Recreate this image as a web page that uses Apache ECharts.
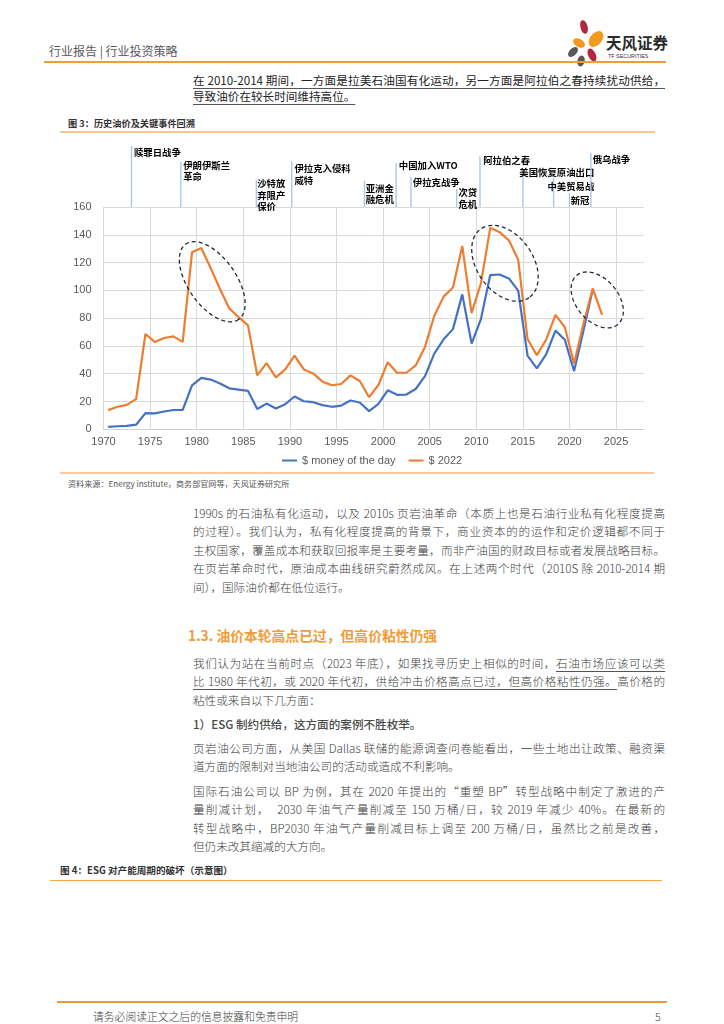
<!DOCTYPE html>
<html><head><meta charset="utf-8">
<script src="https://cdn.jsdelivr.net/npm/echarts@6/dist/echarts.min.js"></script>
<style>
html,body{margin:0;padding:0;background:#fff;}
#page{position:relative;width:724px;height:1024px;overflow:hidden;font-family:"Noto Sans CJK SC","Noto Sans",sans-serif;background:#fff;}
#chart{position:absolute;left:0;top:0;width:724px;height:1024px;z-index:2;}
.t{position:absolute;white-space:nowrap;}
.ln{position:absolute;left:193px;width:472px;height:18px;line-height:18px;font-size:11.6px;color:#3c3c3c;font-weight:300;}
.j{text-align:justify;text-align-last:justify;}
.rule{position:absolute;}
.u{text-decoration:underline;text-decoration-color:#555;text-underline-offset:3px;}
</style></head>
<body>
<div id="page">
  <!-- header -->
  <div class="t" style="left:49px;top:43px;font-size:12px;line-height:16px;color:#595959;">行业报告 | 行业投资策略</div>
  <svg style="position:absolute;left:0;top:0;" width="724" height="80">
    <ellipse cx="584" cy="27" rx="3.6" ry="7" transform="rotate(-15 584 27)" fill="#B0283F"/>
    <ellipse cx="596" cy="39" rx="6" ry="9" transform="rotate(40 596 39)" fill="#F39A1E"/>
    <ellipse cx="579" cy="43" rx="4" ry="6.5" transform="rotate(-60 579 43)" fill="#F39A1E"/>
    <ellipse cx="573" cy="52" rx="3.6" ry="6" transform="rotate(45 573 52)" fill="#58595B"/>
    <ellipse cx="592" cy="55" rx="3.8" ry="7" transform="rotate(-25 592 55)" fill="#B0283F"/>
    <ellipse cx="581" cy="61" rx="3.6" ry="5.5" transform="rotate(15 581 61)" fill="#58595B"/>
    <text x="606" y="48.5" font-size="15.5" font-weight="700" fill="#2b2b2b" font-family="Noto Sans CJK SC">天风证券</text>
    <text x="608" y="58" font-size="5.4" fill="#333" font-family="Liberation Sans">TF SECURITIES</text>
  </svg>
  <div class="rule" style="left:44px;top:61px;width:622px;height:2px;background:#F39C36;"></div>

  <div class="ln j" style="top:71px;font-size:11.6px;color:#222;font-weight:400;"><span class="u">在 2010-2014 期间，一方面是拉美石油国有化运动，另一方面是阿拉伯之春持续扰动供给，</span></div>
  <div class="ln" style="top:87px;font-size:11.6px;color:#222;font-weight:400;"><span class="u">导致油价在较长时间维持高位。</span></div>

  <div class="t" style="left:68px;top:117px;font-size:9.2px;line-height:12px;color:#333;font-weight:700;">图 3：历史油价及关键事件回溯</div>
  <div class="rule" style="left:60px;top:131px;width:595px;height:1.5px;background:#F9C596;"></div>

  <div class="rule" style="left:60px;top:472px;width:594px;height:1.5px;background:#FBC99B;"></div>
  <div class="t" style="left:68px;top:478px;font-size:8.1px;line-height:12px;color:#555;">资料来源：Energy institute，商务部官网等，天风证券研究所</div>

  <div class="ln j" style="top:503.7px;">1990s 的石油私有化运动，以及 2010s 页岩油革命（本质上也是石油行业私有化程度提高</div>
  <div class="ln j" style="top:522.2px;">的过程）。我们认为，私有化程度提高的背景下，商业资本的的运作和定价逻辑都不同于</div>
  <div class="ln j" style="top:540.7px;">主权国家，覆盖成本和获取回报率是主要考量，而非产油国的财政目标或者发展战略目标。</div>
  <div class="ln j" style="top:559.2px;">在页岩革命时代，原油成本曲线研究蔚然成风。在上述两个时代（2010S 除 2010-2014 期</div>
  <div class="ln" style="top:577.7px;">间），国际油价都在低位运行。</div>

  <div class="t" style="left:188px;top:625px;font-size:13.8px;line-height:20px;color:#F29B38;font-weight:700;">1.3. 油价本轮高点已过，但高价粘性仍强</div>

  <div class="ln j" style="top:654px;">我们认为站在当前时点（2023 年底），如果找寻历史上相似的时间，<span class="u">石油市场应该可以类</span></div>
  <div class="ln j" style="top:672.3px;"><span class="u">比 1980 年代初，或 2020 年代初，供给冲击价格高点已过，但高价格粘性仍强。</span>高价格的</div>
  <div class="ln" style="top:690.6px;">粘性或来自以下几方面：</div>

  <div class="ln" style="top:715px;font-weight:500;color:#4a4a4a;">1）ESG 制约供给，这方面的案例不胜枚举。</div>

  <div class="ln j" style="top:739px;">页岩油公司方面，从美国 Dallas 联储的能源调查问卷能看出，一些土地出让政策、融资渠</div>
  <div class="ln" style="top:757.3px;">道方面的限制对当地油公司的活动或造成不利影响。</div>

  <div class="ln j" style="top:782px;">国际石油公司以 BP 为例，其在 2020 年提出的“重塑 BP”转型战略中制定了激进的产</div>
  <div class="ln j" style="top:800.3px;">量削减计划，&nbsp; 2030 年油气产量削减至 150 万桶/日，较 2019 年减少 40%。在最新的</div>
  <div class="ln j" style="top:818.6px;">转型战略中，BP2030 年油气产量削减目标上调至 200 万桶/日，虽然比之前是改善，</div>
  <div class="ln" style="top:836.9px;">但仍未改其缩减的大方向。</div>

  <div class="t" style="left:60px;top:864px;font-size:9.6px;line-height:13px;color:#333;font-weight:700;">图 4：ESG 对产能周期的破坏（示意图）</div>
  <div class="rule" style="left:50px;top:879.5px;width:612px;height:1.5px;background:#F6A54F;"></div>

  <div class="rule" style="left:57px;top:1001px;width:610px;height:2.2px;background:#EE9A2E;"></div>
  <div class="t" style="left:93px;top:1008px;font-size:10.8px;line-height:16px;color:#404040;font-weight:300;">请务必阅读正文之后的信息披露和免责申明</div>
  <div class="t" style="left:655px;top:1008px;font-size:10.8px;line-height:16px;color:#404040;font-weight:300;">5</div>

  <div id="chart"></div>
</div>
<script>
// ---- data ----
const years = [1970,1971,1972,1973,1974,1975,1976,1977,1978,1979,
  1980,1981,1982,1983,1984,1985,1986,1987,1988,1989,
  1990,1991,1992,1993,1994,1995,1996,1997,1998,1999,
  2000,2001,2002,2003,2004,2005,2006,2007,2008,2009,
  2010,2011,2012,2013,2014,2015,2016,2017,2018,2019,
  2020,2021,2022,2023];
const moneyOfTheDay = [1.8,2.2,2.5,3.3,11.6,11.5,12.8,13.9,14.0,31.6,
  37.0,35.8,32.9,29.5,28.6,27.7,14.6,18.5,15.0,18.1,
  23.6,20.2,19.5,17.4,16.2,17.1,20.7,19.3,13.1,18.3,
  28.1,24.8,25.0,29.0,38.3,54.5,64.8,72.1,97.1,61.7,
  79.3,111.0,111.4,108.6,99.8,53.1,43.8,54.0,71.0,64.5,
  41.9,71.0,100.7,null];
const usd2022 = [13.8,16.2,17.6,21.7,68.6,62.9,65.7,66.9,62.9,127.4,
  130.5,116.0,101.0,87.0,80.7,74.8,38.8,47.6,37.4,43.1,
  53.1,43.1,40.2,34.3,31.7,32.6,38.8,34.8,23.1,31.9,
  48.3,40.7,40.7,46.0,59.3,81.7,95.5,102.1,131.9,83.6,
  105.0,145.0,141.9,136.0,122.1,65.0,53.3,64.5,82.4,73.6,
  47.4,76.0,101.4,82.4];
const seriesNames = ['$ money of the day', '$ 2022'];
const xTickMin = 1970, xTickMax = 2028, xTickStep = 5;
const yTickMin = 0, yTickMax = 160, yTickStep = 20;
// key events (x position)
const eventYears = [1973, 1978.3, 1986.4, 1990.2, 1998, 2001.4, 2003, 2007.9, 2010.4, 2015, 2018.3, 2020, 2022.3];
const eventNames = ['赎罪日战争', '伊朗伊斯兰\n革命', '沙特放\n弃限产\n保价', '伊拉克入侵科\n威特', '亚洲金\n融危机',
  '中国加入WTO', '伊拉克战争', '次贷\n危机', '阿拉伯之春', '美国恢复原油出口', '中美贸易战', '新冠', '俄乌战争'];
// ---- layout (not data) ----
const evLineTop = [1, 16.7, 35, 16, 35.7, 18, 32, 44, 11, 24, 33, 48, 8];
const evLabelTop = [1.9, 14.2, 32.4, 17.4, 37.1, 14.2, 31.2, 41.4, 9.2, 21.9, 35.9, 49.9, 8.4];
const evDx = [2.5, 2.3, 0.8, 2.7, 1.2, 2.7, 1.8, 1.8, 3.2, -3.5, -6.2, 1.2, 1.8];
const ellipses = [
  {x: 1981.67, y: 106.2, a: 46, b: 24, rot: 55},
  {x: 2013.08, y: 119.5, a: 42, b: 28, rot: 55},
  {x: 2022.98, y: 93.1, a: 32, b: 21, rot: 50}
];

const axisCats = years.concat([2024, 2025, 2026, 2027]).map(String);
const G = {left: 103.5, top: 207, width: 540.5, height: 222.3};
const axisFont = 'Liberation Sans';

const chart = echarts.init(document.getElementById('chart'), null, {renderer: 'canvas'});
chart.setOption({
  animation: false,
  grid: [
    {left: G.left, top: G.top, width: G.width, height: G.height},
    {left: G.left, top: 145, width: G.width, height: 62}
  ],
  xAxis: [
    {type: 'category', gridIndex: 0, data: axisCats, boundaryGap: true, show: false},
    {type: 'value', gridIndex: 0, position: 'bottom', min: xTickMin, max: xTickMax, interval: xTickStep,
      axisLine: {show: true, lineStyle: {color: '#D0D0D0', width: 1}},
      axisTick: {show: false},
      axisLabel: {color: '#595959', fontSize: 11, fontFamily: axisFont, margin: 7, showMaxLabel: false,
        formatter: v => String(v)},
      splitLine: {show: true, showMaxLine: false, lineStyle: {color: '#D9D9D9', width: 1}}},
    {type: 'value', gridIndex: 1, min: xTickMin, max: xTickMax, show: false}
  ],
  yAxis: [
    {type: 'value', gridIndex: 0, min: yTickMin, max: yTickMax, interval: yTickStep,
      axisLine: {show: false}, axisTick: {show: false},
      axisLabel: {color: '#595959', fontSize: 11, fontFamily: axisFont, margin: 12},
      splitLine: {show: true, lineStyle: {color: '#D9D9D9', width: 1}}},
    {type: 'value', gridIndex: 1, min: 0, max: 62, inverse: true, show: false}
  ],
  legend: {
    left: 277, top: 450, itemWidth: 15, itemHeight: 2, itemGap: 13, icon: 'rect',
    textStyle: {color: '#595959', fontSize: 11, fontFamily: axisFont},
    data: seriesNames
  },
  series: [
    {name: seriesNames[0], type: 'line', xAxisIndex: 0, yAxisIndex: 0, data: moneyOfTheDay,
      symbol: 'none', lineStyle: {color: '#4472C4', width: 2.2}, itemStyle: {color: '#4472C4'}, z: 3},
    {name: seriesNames[1], type: 'line', xAxisIndex: 0, yAxisIndex: 0, data: usd2022,
      symbol: 'none', lineStyle: {color: '#ED7D31', width: 2.2}, itemStyle: {color: '#ED7D31'}, z: 4},
    {type: 'custom', xAxisIndex: 2, yAxisIndex: 1, silent: true, z: 5,
      data: eventYears.map((y, i) => [y, evLineTop[i]]),
      renderItem: function (params, api) {
        const i = params.dataIndex;
        const x = api.value(0);
        const p0 = api.coord([x, api.value(1)]);
        const p1 = api.coord([x, 62]);
        const pt = api.coord([x, evLabelTop[i]]);
        return {type: 'group', children: [
          {type: 'line', shape: {x1: p0[0], y1: p0[1], x2: p1[0], y2: p1[1]},
            style: {stroke: '#A9C9EA', lineWidth: 1.4}},
          {type: 'text', style: {text: eventNames[i], x: pt[0] + evDx[i], y: pt[1],
            fill: '#000', fontSize: 9.4, fontFamily: 'Noto Sans CJK SC', fontWeight: 600,
            lineHeight: 11.7, align: 'left', verticalAlign: 'top'}}
        ]};
      }
    }
  ]
});

function ellipsePoints(cx, cy, a, b, deg) {
  const r = deg * Math.PI / 180, pts = [];
  for (let k = 0; k < 96; k++) {
    const t = k / 96 * Math.PI * 2;
    const ex = a * Math.cos(t), ey = b * Math.sin(t);
    pts.push([cx + ex * Math.cos(r) - ey * Math.sin(r), cy + ex * Math.sin(r) + ey * Math.cos(r)]);
  }
  return pts;
}
const gfx = ellipses.map(e => {
  const c = chart.convertToPixel({xAxisIndex: 1, yAxisIndex: 0}, [e.x, e.y]);
  return {type: 'polygon', shape: {points: ellipsePoints(c[0], c[1], e.a, e.b, e.rot)},
    style: {fill: 'none', stroke: '#1F2A38', lineWidth: 1.3, lineDash: [4, 3]}, z: 20, silent: true};
});
chart.setOption({graphic: gfx});
</script>
</body></html>
